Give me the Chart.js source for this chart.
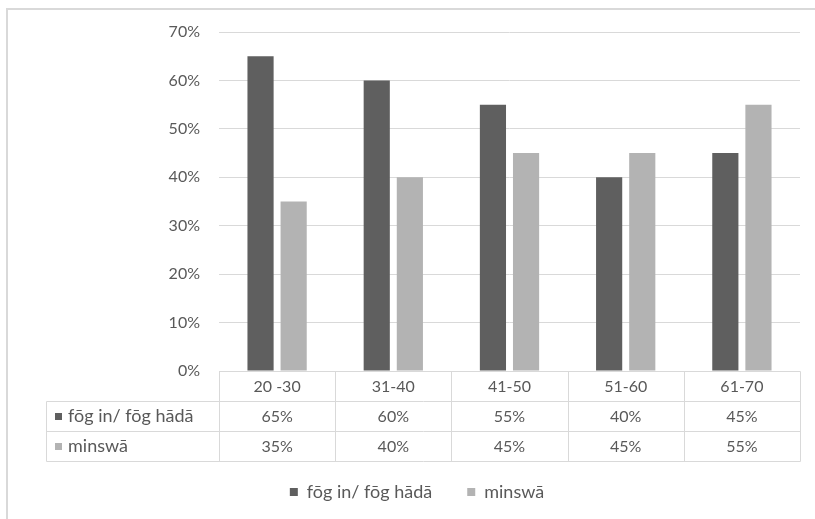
<!DOCTYPE html>
<html>
<head>
<meta charset="utf-8">
<script src="https://cdn.jsdelivr.net/npm/chart.js@4/dist/chart.umd.min.js"></script>
<style>
  html, body { margin: 0; padding: 0; background: #ffffff; }
  #wrap { width: 815px; height: 519px; }
</style>
</head>
<body>
<div id="wrap"><canvas id="chart" width="815" height="519"></canvas></div>
<script>
// Age groups and the share of answers per group (percent)
const categories = ['20 -30', '31-40', '41-50', '51-60', '61-70'];
const seriesNames = ['fōg in/ fōg hādā', 'minswā'];
const fogValues = [65, 60, 55, 40, 45];
const minswaValues = [35, 40, 45, 45, 55];
const yTickValues = [0, 10, 20, 30, 40, 50, 60, 70];

const seriesColors = ['#5f5f5f', '#b3b3b3'];
const textColor = '#595959';
const lineColor = '#d9d9d9';
const fontFamily = 'Lato, "Open Sans", sans-serif';
const numberSize = 16;   // tick labels and table numbers
const wordSize = 18;     // series names

const TABLE_LEFT = 46;
const ROW_H = 30;

const pct = v => v + '%';

// Outer frame plus the data table drawn under the plot area
const dataTablePlugin = {
  id: 'dataTable',
  beforeDraw(chart) {
    const ctx = chart.ctx;
    ctx.save();
    ctx.strokeStyle = lineColor;
    ctx.lineWidth = 2;
    ctx.strokeRect(7, 9, chart.width + 20, chart.height + 20);
    ctx.restore();
  },
  afterDraw(chart) {
    const { ctx, chartArea, scales } = chart;
    const x = scales.x;
    const n = categories.length;
    const colW = (chartArea.right - chartArea.left) / n;
    const y0 = Math.round(chartArea.bottom) + 0.5;
    const y1 = y0 + ROW_H, y2 = y1 + ROW_H, y3 = y2 + ROW_H;
    const left = Math.round(chartArea.left) + 0.5;
    const right = Math.round(chartArea.right) + 0.5;
    const tl = TABLE_LEFT + 0.5;

    ctx.save();
    ctx.strokeStyle = lineColor;
    ctx.lineWidth = 1;
    ctx.beginPath();
    // horizontal rules
    ctx.moveTo(left, y0); ctx.lineTo(right, y0);
    [y1, y2, y3].forEach(y => { ctx.moveTo(tl, y); ctx.lineTo(right, y); });
    // vertical rules
    ctx.moveTo(tl, y1); ctx.lineTo(tl, y3);
    for (let i = 0; i <= n; i++) {
      const xx = Math.round(chartArea.left + i * colW) + 0.5;
      ctx.moveTo(xx, y0); ctx.lineTo(xx, y3);
    }
    ctx.stroke();

    ctx.font = numberSize + 'px ' + fontFamily;
    ctx.fillStyle = textColor;
    ctx.textAlign = 'center';
    ctx.textBaseline = 'middle';
    const rows = [fogValues, minswaValues];
    categories.forEach((c, i) => {
      const cx = x.getPixelForValue(i);
      ctx.fillText(c, cx, y0 + ROW_H / 2);
      rows.forEach((vals, r) => {
        ctx.fillText(pct(vals[i]), cx, y1 + r * ROW_H + ROW_H / 2);
      });
    });

    // row headers with series swatches
    ctx.font = wordSize + 'px ' + fontFamily;
    ctx.textAlign = 'left';
    seriesNames.forEach((name, r) => {
      const cy = y1 + r * ROW_H + ROW_H / 2;
      ctx.fillStyle = seriesColors[r];
      ctx.fillRect(55, Math.round(cy - 3.5), 7, 7);
      ctx.fillStyle = textColor;
      ctx.fillText(name, 68, cy);
    });
    ctx.restore();
  }
};

new Chart(document.getElementById('chart'), {
  type: 'bar',
  data: {
    labels: categories,
    datasets: [
      { label: seriesNames[0], data: fogValues, backgroundColor: seriesColors[0] },
      { label: seriesNames[1], data: minswaValues, backgroundColor: seriesColors[1] }
    ]
  },
  options: {
    responsive: false,
    animation: false,
    devicePixelRatio: 1,
    layout: { padding: { top: 32, right: 15, bottom: 8, left: 34 } },
    datasets: {
      bar: { categoryPercentage: 0.57, barPercentage: 0.79 }
    },
    plugins: {
      legend: {
        position: 'bottom',
        labels: {
          boxWidth: 8,
          boxHeight: 8,
          padding: 35,
          color: textColor,
          font: { family: fontFamily, size: wordSize }
        }
      },
      tooltip: { enabled: false }
    },
    scales: {
      x: {
        grid: { display: false },
        border: { display: false },
        ticks: { display: false },
        afterFit(scale) { scale.height = 77; }
      },
      y: {
        min: 0,
        max: 70,
        afterBuildTicks(scale) { scale.ticks = yTickValues.map(v => ({ value: v })); },
        grid: { color: lineColor, drawTicks: false },
        border: { display: false },
        ticks: {
          padding: 19,
          color: textColor,
          font: { family: fontFamily, size: numberSize },
          callback: v => pct(v)
        },
        afterFit(scale) { scale.width = 185; }
      }
    }
  },
  plugins: [dataTablePlugin]
});
</script>
</body>
</html>
